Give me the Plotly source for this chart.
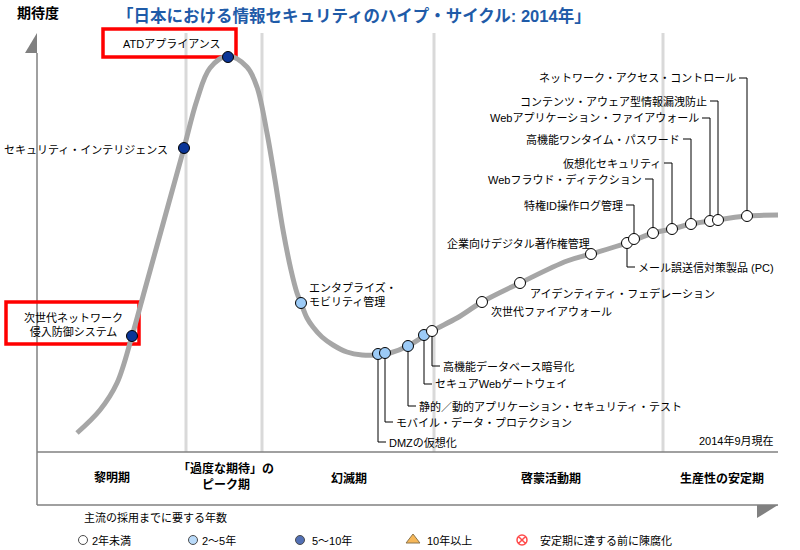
import plotly.graph_objects as go

# ---------------- data ----------------
# Hype curve: time (x) vs expectation (y)
curve_t = [40, 63, 80, 95, 108, 121, 134, 147, 160, 173, 191, 210, 220, 230, 238, 246, 254, 260,
           264, 270, 276, 285, 296, 310, 325, 341, 353, 371, 395, 420, 445, 483, 530, 554, 590,
           616, 635, 654, 673, 710, 741]
curve_e = [19, 42, 69, 116, 163, 210, 257, 304, 352, 384, 396, 385, 365, 319, 272, 222, 182, 159,
           149, 134, 125, 115, 107, 100, 97, 97, 99, 106, 121, 134, 150, 169, 191, 198, 209,
           219, 223, 228, 231, 236, 237]

tech_names = [
    "次世代ネットワーク<br>侵入防御システム",
    "セキュリティ・インテリジェンス",
    "ATDアプライアンス",
    "エンタプライズ・<br>モビリティ管理",
    "DMZの仮想化",
    "モバイル・データ・プロテクション",
    "静的／動的アプリケーション・セキュリティ・テスト",
    "セキュアWebゲートウェイ",
    "高機能データベース暗号化",
    "次世代ファイアウォール",
    "アイデンティティ・フェデレーション",
    "企業向けデジタル著作権管理",
    "メール誤送信対策製品 (PC)",
    "特権ID操作ログ管理",
    "Webフラウド・ディテクション",
    "仮想化セキュリティ",
    "高機能ワンタイム・パスワード",
    "Webアプリケーション・ファイアウォール",
    "コンテンツ・アウェア型情報漏洩防止",
    "ネットワーク・アクセス・コントロール",
]
tech_t = [95, 147, 191, 264, 341, 348, 371, 387, 395, 445, 483, 554, 590, 597, 616, 635, 654, 673, 681, 710]
tech_e = [116, 304, 395, 149, 98, 99, 106, 117, 121, 150, 169, 198, 209, 213, 219, 223, 228, 231, 232, 236]
tech_years = [2, 2, 2, 1, 1, 1, 1, 1, 0, 0, 0, 0, 0, 0, 0, 0, 0, 0, 0, 0]

year_labels = ["2年未満", "2～5年", "5～10年", "10年以上", "安定期に達する前に陳腐化"]
phase_labels = ["黎明期", "「過度な期待」の<br>ピーク期", "幻滅期", "啓蒙活動期", "生産性の安定期"]
title_text = "「日本における情報セキュリティのハイプ・サイクル: 2014年」"
y_title = "期待度"
legend_title = "主流の採用までに要する年数"
as_of = "2014年9月現在"

# ---------------- layout helpers (positions / styles) ----------------
FONT = "Liberation Sans, Noto Sans CJK JP, sans-serif"
year_styles = [
    dict(symbol="circle", color="#FFFFFF", line="#000000", lw=1),
    dict(symbol="circle", color="#9CCBF7", line="#000000", lw=1),
    dict(symbol="circle", color="#0A3597", line="#000000", lw=1),
    dict(symbol="triangle-up", color="#F39A12", line="#5A3A00", lw=1),
    dict(symbol="circle-x", color="#FFFFFF", line="#FF0000", lw=1.5),
]
draw_order = [2, 1, 0]

# legend key placement (layout)
legend_key_x = [46, 156, 263, 376, 485]
legend_text_x = [53, 163, 273, 388, 501]
legend_row_y = -88
legend_title_pos = (45, -65)

# label placement: (kind, a, b)
label_place = [
    ("box", 36, 127), ("left", 133, 302), ("box", 135, 408), ("right", 270, 158),
    ("down", 10, 0), ("down", 30, 0), ("down", 46, 0), ("down", 68, 0), ("down", 86, 0),
    ("right", 452, 140), ("right", 491, 159), ("left", 555, 209), ("down", 185, 0),
    ("up", 247, 0), ("up", 273, 0), ("up", 289, 0), ("up", 313, 0), ("up", 334, 0),
    ("up", 351, 0), ("up", 374, 0),
]
red_boxes = [(-31, 150, 102, 108), (66, 423, 199, 395)]
phase_bounds = [149, 225, 397, 626]
phase_pos = [(75, -26), (189, -24), (312, -26), (514, -26), (685, -26)]
X0, X1 = 0, 741
Y_TOP, Y_BOT = 419, -53

fig = go.Figure()

shapes = []
for xb in phase_bounds:
    shapes.append(dict(type="line", x0=xb, x1=xb, y0=0, y1=Y_TOP, layer="below",
                       line=dict(color="#D9D9D9", width=3)))
ax = dict(color="#808080", width=1.5)
shapes.append(dict(type="line", x0=X0, x1=X0, y0=Y_BOT, y1=Y_TOP - 20, line=ax, layer="below"))
shapes.append(dict(type="line", x0=X0, x1=X1, y0=0, y1=0, line=ax, layer="below"))
shapes.append(dict(type="line", x0=X0, x1=X1, y0=Y_BOT, y1=Y_BOT, line=ax, layer="below"))
shapes.append(dict(type="path", path=f"M {X0},{Y_TOP} L {X0},{Y_TOP-20} L {X0-12},{Y_TOP-20} Z",
                   fillcolor="#808080", line=dict(width=0)))
shapes.append(dict(type="path", path=f"M {X1-21},{Y_BOT} L {X1},{Y_BOT} L {X1-21},{Y_BOT-13} Z",
                   fillcolor="#808080", line=dict(width=0)))
for (bx0, by0, bx1, by1) in red_boxes:
    shapes.append(dict(type="rect", x0=bx0, y0=by0, x1=bx1, y1=by1, layer="below",
                       line=dict(color="#FF0000", width=3.5)))

annotations = []
lab_font = dict(family=FONT, size=11, color="#000000")
for name, tt, ee, (kind, a, b) in zip(tech_names, tech_t, tech_e, label_place):
    if kind == "up":
        shapes.append(dict(type="path", path=f"M {tt},{ee+5} L {tt},{a} L {tt-8},{a}",
                           line=dict(color="#000000", width=1), layer="below"))
        annotations.append(dict(x=tt - 9, y=a, text=name, xanchor="right", yanchor="middle"))
    elif kind == "down":
        shapes.append(dict(type="path", path=f"M {tt},{ee-5} L {tt},{a} L {tt+8},{a}",
                           line=dict(color="#000000", width=1), layer="below"))
        annotations.append(dict(x=tt + 9, y=a, text=name, xanchor="left", yanchor="middle"))
    elif kind == "left":
        annotations.append(dict(x=a, y=b, text=name, xanchor="right", yanchor="middle"))
    elif kind == "right":
        annotations.append(dict(x=a, y=b, text=name, xanchor="left", yanchor="middle", align="left"))
    else:
        annotations.append(dict(x=a, y=b, text=name, xanchor="center", yanchor="middle", align="center"))
for an in annotations:
    an.update(showarrow=False, font=lab_font, xref="x", yref="y")

for txt, (px, py) in zip(phase_labels, phase_pos):
    annotations.append(dict(x=px, y=py, text=f"<b>{txt}</b>", showarrow=False, xref="x", yref="y",
                            xanchor="center", yanchor="middle", align="center",
                            font=dict(family=FONT, size=12, color="#000000")))
annotations += [
    dict(x=78, y=437, text=f"<b>{title_text}</b>", xanchor="left", yanchor="middle", showarrow=False,
         xref="x", yref="y", font=dict(family=FONT, size=16.5, color="#1F5BA8")),
    dict(x=1, y=439, text=f"<b>{y_title}</b>", xanchor="center", yanchor="middle", showarrow=False,
         xref="x", yref="y", font=dict(family=FONT, size=14, color="#000000")),
    dict(x=739, y=12, text=as_of, xanchor="right", yanchor="middle", showarrow=False,
         xref="x", yref="y", font=dict(family=FONT, size=11, color="#000000")),
    dict(x=legend_title_pos[0], y=legend_title_pos[1], text=legend_title, xanchor="left", yanchor="middle",
         showarrow=False, xref="x", yref="y", font=dict(family=FONT, size=11, color="#000000")),
]
for lbl, tx in zip(year_labels, legend_text_x):
    annotations.append(dict(x=tx, y=legend_row_y, text=lbl, xanchor="left", yanchor="middle", showarrow=False,
                            xref="x", yref="y", font=dict(family=FONT, size=11, color="#000000")))

# curve
fig.add_trace(go.Scatter(x=curve_t, y=curve_e, mode="lines",
                         line=dict(color="#A6A6A6", width=5, shape="spline"),
                         hoverinfo="skip", showlegend=False))
# technology points by years-to-mainstream
for k in draw_order:
    xs = [tt for tt, yy in zip(tech_t, tech_years) if yy == k]
    ys = [ee for ee, yy in zip(tech_e, tech_years) if yy == k]
    names_k = [nm.replace("<br>", "") for nm, yy in zip(tech_names, tech_years) if yy == k]
    st = year_styles[k]
    fig.add_trace(go.Scatter(x=xs, y=ys, mode="markers", name=year_labels[k], text=names_k,
                             hoverinfo="text", showlegend=False,
                             marker=dict(symbol=st["symbol"], size=11, color=st["color"],
                                         line=dict(color=st["line"], width=st["lw"]))))
# legend key
fig.add_trace(go.Scatter(
    x=legend_key_x, y=[legend_row_y] * len(legend_key_x), mode="markers", hoverinfo="skip", showlegend=False,
    marker=dict(symbol=[s["symbol"] for s in year_styles], size=[9, 9, 9, 12, 10],
                color=[s["color"] for s in year_styles],
                line=dict(color=[s["line"] for s in year_styles], width=[s["lw"] for s in year_styles]))))

fig.update_layout(
    width=800, height=550, margin=dict(l=0, r=0, t=0, b=0),
    paper_bgcolor="#FFFFFF", plot_bgcolor="#FFFFFF",
    xaxis=dict(range=[-37, 763], visible=False, fixedrange=True),
    yaxis=dict(range=[-98, 452], visible=False, fixedrange=True),
    shapes=shapes, annotations=annotations,
    showlegend=False,
    font=dict(family=FONT),
)

fig.write_html("out.html", config={"displayModeBar": False},
               post_script="document.body.style.margin='0';")
